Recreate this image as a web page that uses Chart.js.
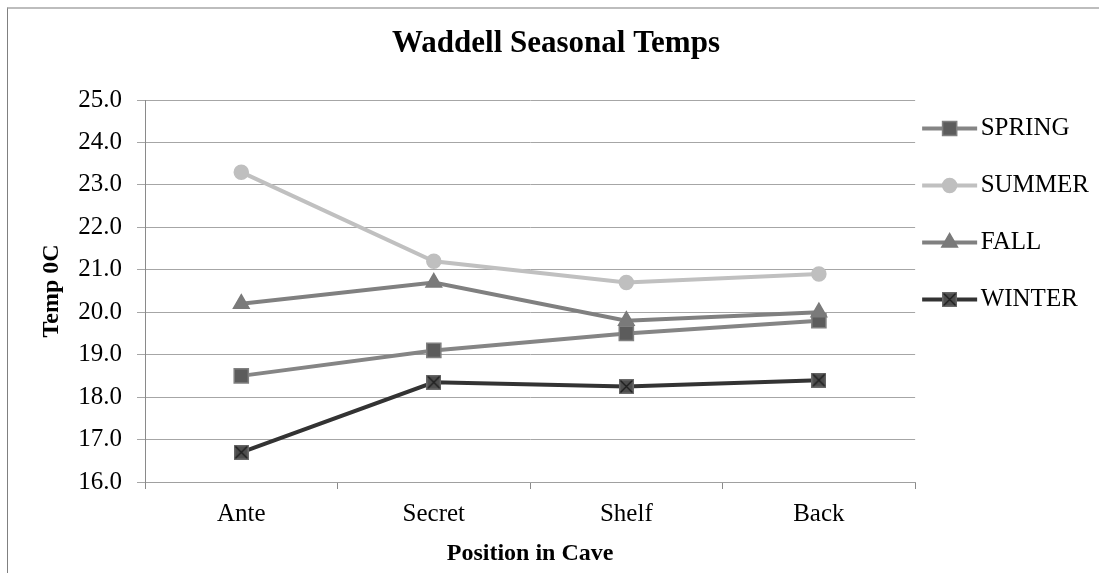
<!DOCTYPE html>
<html>
<head>
<meta charset="utf-8">
<script src="https://cdn.jsdelivr.net/npm/chart.js@4/dist/chart.umd.min.js"></script>
<style>
  html, body { margin: 0; padding: 0; background: #fff; overflow: hidden; }
  #wrap { position: relative; width: 1099px; height: 573px; }
  #frame { position: absolute; left: 7px; top: 7px; width: 1200px; height: 700px;
           border-left: 1px solid #808080; border-top: 2px solid #bdbdbd; box-sizing: border-box; pointer-events: none; }
  canvas { position: absolute; left: 0; top: 0; }
</style>
</head>
<body>
<div id="wrap">
  <div id="frame"></div>
  <canvas id="c" width="1099" height="573"></canvas>
</div>
<script>
const chartTitle = 'Waddell Seasonal Temps';
const xTitle = 'Position in Cave';
const yTitle = 'Temp 0C';
const categories = ['Ante', 'Secret', 'Shelf', 'Back'];
const seriesNames = ['SPRING', 'SUMMER', 'FALL', 'WINTER'];
const spring = [18.5, 19.1, 19.5, 19.8];
const summer = [23.3, 21.2, 20.7, 20.9];
const fall = [20.2, 20.7, 19.8, 20.0];
const winter = [16.7, 18.35, 18.25, 18.4];
const yMin = 16, yMax = 25, yStep = 1;

const FONT = '"Liberation Serif", "Times New Roman", serif';

function winterMarker() {
  const c = document.createElement('canvas');
  c.width = 15; c.height = 15;
  const g = c.getContext('2d');
  g.fillStyle = '#4d4d4d';
  g.fillRect(0, 0, 15, 15);
  g.strokeStyle = '#6a6a6a';
  g.lineWidth = 1.5;
  g.strokeRect(0.75, 0.75, 13.5, 13.5);
  g.strokeStyle = '#1e1e1e';
  g.lineWidth = 1.4;
  g.beginPath();
  g.moveTo(1.5, 1.5); g.lineTo(13.5, 13.5);
  g.moveTo(13.5, 1.5); g.lineTo(1.5, 13.5);
  g.stroke();
  return c;
}
const wMark = winterMarker();

const seriesStyles = [
  { line: '#858585', fill: '#5c5c5c', border: '#808080', style: 'rect', radius: 10, order: 4 },
  { line: '#c0c0c0', fill: '#bfbfbf', border: '#bfbfbf', style: 'circle', radius: 7, order: 3 },
  { line: '#808080', fill: '#7a7a7a', border: '#7a7a7a', style: 'triangle', radius: 9, order: 2 },
  { line: '#333333', fill: '#4d4d4d', border: '#4d4d4d', style: wMark, radius: 8, order: 1 }
];
const seriesData = [spring, summer, fall, winter];

const datasets = seriesNames.map((name, i) => ({
  label: name,
  data: seriesData[i],
  borderColor: seriesStyles[i].line,
  backgroundColor: seriesStyles[i].fill,
  borderWidth: 4,
  pointStyle: seriesStyles[i].style,
  pointRadius: seriesStyles[i].radius,
  pointBackgroundColor: seriesStyles[i].fill,
  pointBorderColor: seriesStyles[i].border,
  pointBorderWidth: 1.5,
  tension: 0,
  order: seriesStyles[i].order
}));

function drawMarker(ctx, st, x, y) {
  ctx.save();
  if (typeof st.style === 'object') {
    ctx.drawImage(st.style, x - st.style.width / 2, y - st.style.height / 2);
    ctx.restore();
    return;
  }
  ctx.fillStyle = st.fill;
  ctx.strokeStyle = st.border;
  ctx.lineWidth = 1.5;
  ctx.beginPath();
  const r = st.radius;
  if (st.style === 'rect') {
    const s = Math.SQRT1_2 * r;
    ctx.rect(x - s, y - s, 2 * s, 2 * s);
  } else if (st.style === 'circle') {
    ctx.arc(x, y, r, 0, Math.PI * 2);
  } else if (st.style === 'triangle') {
    for (let k = 0; k < 3; k++) {
      const a = k * 2 * Math.PI / 3;
      const px = x + Math.sin(a) * r, py = y - Math.cos(a) * r;
      if (k === 0) ctx.moveTo(px, py); else ctx.lineTo(px, py);
    }
    ctx.closePath();
  }
  ctx.fill();
  ctx.stroke();
  ctx.restore();
}

const legendSamples = {
  id: 'legendSamples',
  afterDraw(chart) {
    const lg = chart.legend;
    if (!lg || !lg.legendHitBoxes) return;
    const ctx = chart.ctx;
    lg.legendItems.forEach((item, i) => {
      const hb = lg.legendHitBoxes[i];
      const st = seriesStyles[item.datasetIndex];
      const cy = hb.top + hb.height / 2;
      const x0 = hb.left + 7, x1 = hb.left + 62;
      ctx.save();
      ctx.strokeStyle = st.line;
      ctx.lineWidth = 4;
      ctx.beginPath();
      ctx.moveTo(x0, cy); ctx.lineTo(x1, cy);
      ctx.stroke();
      ctx.restore();
      drawMarker(ctx, st, (x0 + x1) / 2, cy);
    });
  }
};

new Chart(document.getElementById('c'), {
  type: 'line',
  data: { labels: categories, datasets },
  options: {
    responsive: false,
    animation: false,
    devicePixelRatio: 1,
    layout: { padding: { left: 13, right: 0, top: 0, bottom: 0 } },
    plugins: {
      title: {
        display: true,
        text: chartTitle,
        color: '#000',
        font: { family: FONT, size: 31, weight: 'bold' },
        padding: { top: 25, bottom: 37.8 }
      },
      legend: {
        display: true,
        position: 'right',
        align: 'start',
        fullSize: false,
        maxWidth: 184,
        labels: {
          color: '#000',
          font: { family: FONT, size: 25 },
          boxWidth: 53,
          boxHeight: 57,
          padding: 0,
          sort: (a, b) => a.datasetIndex - b.datasetIndex,
          generateLabels(chart) {
            return Chart.defaults.plugins.legend.labels.generateLabels(chart).map(it => Object.assign(it, {
              fillStyle: 'rgba(0,0,0,0)', strokeStyle: 'rgba(0,0,0,0)', lineWidth: 0, fontColor: '#000'
            }));
          }
        }
      },
      tooltip: { enabled: false }
    },
    scales: {
      x: {
        offset: true,
        grid: { offset: true, drawOnChartArea: false, drawTicks: true, tickLength: 7, color: '#8a8a8a' },
        border: { display: true, color: '#a0a0a0' },
        ticks: { color: '#000', font: { family: FONT, size: 25 }, padding: 10, maxRotation: 0 },
        title: { display: true, text: xTitle, color: '#000', font: { family: FONT, size: 24, weight: 'bold' }, padding: { top: 0, bottom: 5 } },
        afterFit(scale) { scale.height = 91; }
      },
      y: {
        min: yMin,
        max: yMax,
        grid: { color: '#a6a6a6', tickLength: 8, drawTicks: true },
        border: { display: true, color: '#8a8a8a' },
        ticks: {
          stepSize: yStep,
          color: '#000',
          padding: 15,
          font: { family: FONT, size: 25 },
          callback: v => Number(v).toFixed(1)
        },
        title: { display: true, text: yTitle, color: '#000', font: { family: FONT, size: 24, weight: 'bold' }, padding: { top: 24.6, bottom: 0 } },
        afterFit(scale) { scale.width = 132; }
      }
    }
  },
  plugins: [legendSamples]
});
</script>
</body>
</html>
